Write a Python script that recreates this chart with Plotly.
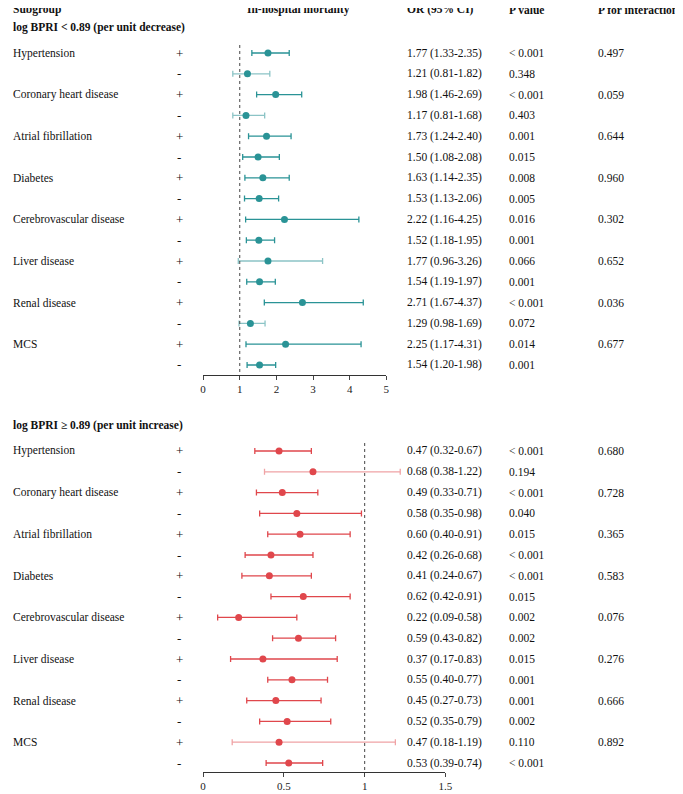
import plotly.graph_objects as go

groups = ["Hypertension", "Coronary heart disease", "Atrial fibrillation", "Diabetes",
          "Cerebrovascular disease", "Liver disease", "Renal disease", "MCS"]
signs = ["+", "-"]

top_or = [1.77, 1.21, 1.98, 1.17, 1.73, 1.50, 1.63, 1.53, 2.22, 1.52, 1.77, 1.54, 2.71, 1.29, 2.25, 1.54]
top_lo = [1.33, 0.81, 1.46, 0.81, 1.24, 1.08, 1.14, 1.13, 1.16, 1.18, 0.96, 1.19, 1.67, 0.98, 1.17, 1.20]
top_hi = [2.35, 1.82, 2.69, 1.68, 2.40, 2.08, 2.35, 2.06, 4.25, 1.95, 3.26, 1.97, 4.37, 1.69, 4.31, 1.98]
top_p = ["< 0.001", "0.348", "< 0.001", "0.403", "0.001", "0.015", "0.008", "0.005",
         "0.016", "0.001", "0.066", "0.001", "< 0.001", "0.072", "0.014", "0.001"]
top_pint = ["0.497", "0.059", "0.644", "0.960", "0.302", "0.652", "0.036", "0.677"]

bot_or = [0.47, 0.68, 0.49, 0.58, 0.60, 0.42, 0.41, 0.62, 0.22, 0.59, 0.37, 0.55, 0.45, 0.52, 0.47, 0.53]
bot_lo = [0.32, 0.38, 0.33, 0.35, 0.40, 0.26, 0.24, 0.42, 0.09, 0.43, 0.17, 0.40, 0.27, 0.35, 0.18, 0.39]
bot_hi = [0.67, 1.22, 0.71, 0.98, 0.91, 0.68, 0.67, 0.91, 0.58, 0.82, 0.83, 0.77, 0.73, 0.79, 1.19, 0.74]
bot_p = ["< 0.001", "0.194", "< 0.001", "0.040", "0.015", "< 0.001", "< 0.001", "0.015",
         "0.002", "0.002", "0.015", "0.001", "0.001", "0.002", "0.110", "< 0.001"]
bot_pint = ["0.680", "0.728", "0.365", "0.583", "0.076", "0.276", "0.666", "0.892"]

OFF = 8
W, H = 683 - OFF, 794 - OFF
FONT = "Liberation Serif"
FS = 11.5
fig = go.Figure()

def px(p, left=False):
    return max(0, (p - OFF - (3 if left else 0))) / W

def py(p):
    return 1 - (p - OFF) / H

def panel(ors, los, his, ps, pints, xa, ya, color, light, row0, title, title_y, dom_x, rng_x, ticks, axis_px):
    n = len(ors)
    for i in range(n):
        c = light if (los[i] < 1 < his[i]) else color
        fig.add_trace(go.Scatter(x=[ors[i]], y=[i], xaxis=xa, yaxis=ya, mode="markers",
                                 marker=dict(color=color, size=7),
                                 error_x=dict(type="data", symmetric=False, array=[his[i] - ors[i]],
                                              arrayminus=[ors[i] - los[i]], color=c, thickness=1.3, width=3),
                                 showlegend=False, hoverinfo="skip"))
    bottom_i = (axis_px - row0) / 20.8
    top_px = row0 - 0.385 * 20.8
    fig.add_trace(go.Scatter(x=[1, 1], y=[-0.385, bottom_i], xaxis=xa, yaxis=ya, mode="lines",
                             line=dict(color="#444", width=1, dash="dot"), showlegend=False, hoverinfo="skip"))
    fig.layout[xa.replace("x", "xaxis")] = dict(domain=[px(dom_x[0]), px(dom_x[1])], range=rng_x, anchor=ya,
                                              showgrid=False, zeroline=False,
                                              showline=True, linecolor="#333", ticks="outside", ticklen=4,
                                              tickvals=ticks, tickfont=dict(size=11, family=FONT, color="#222"))
    fig.layout[ya.replace("y", "yaxis")] = dict(domain=[py(axis_px), py(top_px)], range=[bottom_i, -0.385],
                                              visible=False, anchor=xa)
    ann = fig.add_annotation
    ann(x=px(2, True), y=py(title_y), xref="paper", yref="paper", text="<b>" + title + "</b>", showarrow=False,
        xanchor="left", yanchor="middle", font=dict(size=FS, family=FONT, color="#111"))
    for i in range(n):
        yy = py(row0 + 20.8 * i)
        if i % 2 == 0:
            ann(x=px(2, True), y=yy, xref="paper", yref="paper", text=groups[i // 2], showarrow=False,
                xanchor="left", yanchor="middle", font=dict(size=FS, family=FONT, color="#111"))
            ann(x=px(605, True), y=yy, xref="paper", yref="paper", text=pints[i // 2], showarrow=False,
                xanchor="left", yanchor="middle", font=dict(size=FS, family=FONT, color="#111"))
        ann(x=px(179), y=yy, xref="paper", yref="paper", text=signs[i % 2], showarrow=False,
            xanchor="center", yanchor="middle", font=dict(size=13, family=FONT, color="#111"))
        ann(x=px(411, True), y=yy, xref="paper", yref="paper",
            text=f"{ors[i]:.2f} ({los[i]:.2f}-{his[i]:.2f})", showarrow=False,
            xanchor="left", yanchor="middle", font=dict(size=FS, family=FONT, color="#111"))
        ann(x=px(514, True), y=yy, xref="paper", yref="paper", text=ps[i], showarrow=False,
            xanchor="left", yanchor="middle", font=dict(size=FS, family=FONT, color="#111"))

panel(top_or, top_lo, top_hi, top_p, top_pint, "x", "y", "#2a9396", "#8cc4c6", 53,
      "log BPRI < 0.89 (per unit decrease)", 27, [203, 389], [0, 5], [0, 1, 2, 3, 4, 5], 375)
panel(bot_or, bot_lo, bot_hi, bot_p, bot_pint, "x2", "y2", "#e0474c", "#f0a3a5", 451,
      "log BPRI ≥ 0.89 (per unit increase)", 425, [203, 449], [0, 1.5], [0, 0.5, 1, 1.5], 772)

for x, t, anc in [(2, "Subgroup", "left"), (300, "In-hospital mortality", "center"), (411, "OR (95% CI)", "left"),
                  (514, "P value", "left"), (605, "P for interaction", "left")]:
    fig.add_annotation(x=px(x, anc == "left"), y=py(10), xref="paper", yref="paper", text="<b>" + t + "</b>",
                       showarrow=False, xanchor=anc, yanchor="middle",
                       font=dict(size=FS, family=FONT, color="#111"))

fig.update_layout(width=W, height=H, margin=dict(l=0, r=0, t=0, b=0), plot_bgcolor="white",
                  paper_bgcolor="white", font=dict(family=FONT))
fig.write_html("out.html")
